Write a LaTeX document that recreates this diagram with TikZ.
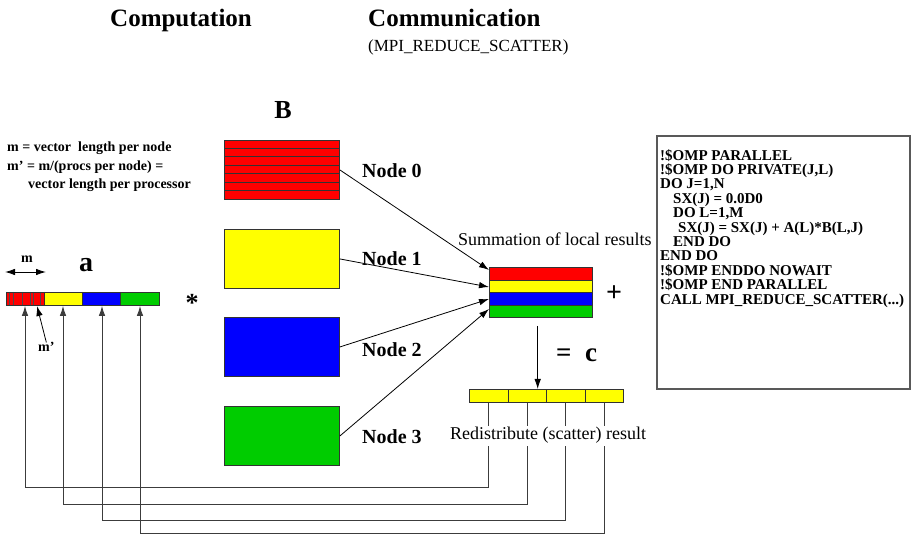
\documentclass[tikz,border=0pt]{standalone}
\usepackage{fontspec}
\setmainfont{Liberation Serif}
\usetikzlibrary{arrows.meta}
\definecolor{cred}{RGB}{255,0,0}
\definecolor{cyel}{RGB}{255,255,0}
\definecolor{cblu}{RGB}{0,0,255}
\definecolor{cgrn}{RGB}{0,204,0}
\definecolor{lgray}{RGB}{60,60,60}
\tikzset{
  fs/.style={font=\fontsize{#1}{#1}\selectfont},
  fsb/.style={font=\fontsize{#1}{#1}\selectfont\bfseries},
  bbox/.style={draw=black!80, line width=0.9pt, minimum width=115pt, minimum height=59pt, inner sep=0pt, anchor=north west},
  cell/.style={draw=black!80, line width=0.9pt, fill=cyel, minimum width=38.5pt, minimum height=13pt, inner sep=0pt, anchor=north west},
  tip/.tip={Latex[length=10pt,width=6.5pt]},
  conn/.style={line width=0.8pt, -tip},
  loopline/.style={draw=lgray, line width=0.9pt, -tip},
  lbl/.style={anchor=base west, inner sep=0pt},
}
\begin{document}
\begin{tikzpicture}[x=1pt,y=-1pt]
\useasboundingbox (0,0) rectangle (911,534);

% titles
\node[lbl, fsb=25] (t1) at (110,27) {Computation};
\node[lbl, fsb=25] (t2) at (368,27) {Communication};
\node[lbl, fs=17] (t3) at (368,52) {(MPI\_REDUCE\_SCATTER)};

% left explanation
\node[lbl, fsb=14] (e1) at (7,152) {m = vector\ \ length per node};
\node[lbl, fsb=14] (e2) at (7,170.5) {m’ = m/(procs per node) =};
\node[lbl, fsb=14] (e3) at (28,189) {vector length per processor};

% vector a
\node[lbl, fsb=14] (mlab) at (21,263) {m};
\coordinate (ml) at (5,272);
\coordinate (mr) at (46,272);
\draw[line width=0.9pt, tip-tip] (ml) -- (mr);
\node[lbl, fsb=28] (alab) at (79,272) {a};
\node[draw=black!80, line width=0.9pt, minimum width=153pt, minimum height=13pt, inner sep=0pt, anchor=north west] (abar) at (6,292) {};
\fill[cred] (6,292) rectangle (44.25,305);
\fill[cyel] (44.25,292) rectangle (82.5,305);
\fill[cblu] (82.5,292) rectangle (120.75,305);
\fill[cgrn] (120.75,292) rectangle (159,305);
\foreach \xx in {9.5,13.5,22,30,33.3,40}{\draw[line width=0.7pt, black!70] (\xx,292) -- (\xx,305);}
\foreach \xx in {44.25,82.5,120.75}{\draw[line width=0.9pt, black!80] (\xx,292) -- (\xx,305);}
\draw[draw=black!80, line width=0.9pt] (6,292) rectangle (159,305);
\node[lbl, fsb=14] (mplab) at (38,352) {m’};
\coordinate (mptip) at (37,306);
\draw[conn] (mplab.north) -- (mptip);
\node[fsb=26] (star) at (192,303) {*};

% matrix B
\node[fsb=26] (Blab) at (283,110) {B};
\node[bbox, fill=cred] (b0) at (224,140) {};
\foreach \k in {1,...,6}{\draw[line width=0.8pt, black!80] (224,140+8.43*\k) -- (339,140+8.43*\k);}
\node[bbox, fill=cyel] (b1) at (224,229) {};
\node[bbox, fill=cblu] (b2) at (224,317) {};
\node[bbox, fill=cgrn] (b3) at (224,406) {};
\node[lbl, fsb=20] (n0) at (362,178) {Node 0};
\node[lbl, fsb=20] (n1) at (362,266) {Node 1};
\node[lbl, fsb=20] (n2) at (362,357) {Node 2};
\node[lbl, fsb=20] (n3) at (362,444) {Node 3};

% summation
\node[lbl, fs=18] (sumlab) at (458,246) {Summation of local results};
\node[minimum width=103pt, minimum height=50.5pt, inner sep=0pt, anchor=north west] (sum) at (489,267.3) {};
\fill[cred] (489,267.3) rectangle (592,280);
\fill[cyel] (489,280) rectangle (592,292.7);
\fill[cblu] (489,292.7) rectangle (592,305.3);
\fill[cgrn] (489,305.3) rectangle (592,317.8);
\foreach \yy in {280,292.7,305.3}{\draw[line width=0.9pt, black!80] (489,\yy) -- (592,\yy);}
\draw[draw=black!80, line width=0.9pt] (489,267.3) rectangle (592,317.8);
\coordinate (s0) at (489,270);
\coordinate (s1) at (489,287);
\coordinate (s2) at (489,299);
\coordinate (s3) at (489,309);
\draw[conn] (b0.east) -- (s0);
\draw[conn] (b1.east) -- (s1);
\draw[conn] (b2.east) -- (s2);
\draw[conn] (b3.east) -- (s3);
\node[fsb=28] (plus) at (614,294) {+};

% result c
\coordinate (dstart) at (537.7,326);
\node[cell] (c0) at (469,389) {};
\node[cell] (c1) at (507.5,389) {};
\node[cell] (c2) at (546,389) {};
\node[cell] (c3) at (584.5,389) {};
\draw[conn] (dstart) -- (537.7,389);
\node[lbl, fsb=27] (eqc) at (556,362) {=\ \ c};

% scatter loops
\coordinate (l0) at (25,487);
\coordinate (l1) at (63,504);
\coordinate (l2) at (102,520);
\coordinate (l3) at (140,533);
\draw[loopline] (c0.south) |- (l0) -- (l0 |- abar.south);
\draw[loopline] (c1.south) |- (l1) -- (l1 |- abar.south);
\draw[loopline] (c2.south) |- (l2) -- (l2 |- abar.south);
\draw[loopline] (c3.south) |- (l3) -- (l3 |- abar.south);
\node[lbl, fs=18, fill=white, inner ysep=2pt] (redis) at (450,440) {Redistribute (scatter) result};

% code box
\node[draw=black!65, line width=1.6pt, minimum width=253pt, minimum height=253pt, inner sep=0pt, anchor=north west] (box) at (656,135) {};
\node[anchor=north west, inner sep=0pt, align=left, font=\fontsize{15}{14.4}\selectfont\bfseries] (code) at (660,149) {%
!\$OMP PARALLEL\\
!\$OMP DO PRIVATE(J,L)\\
DO J=1,N\\
\hspace*{13pt}SX(J) = 0.0D0\\
\hspace*{13pt}DO L=1,M\\
\hspace*{18pt}SX(J) = SX(J) + A(L)*B(L,J)\\
\hspace*{13pt}END DO\\
END DO\\
!\$OMP ENDDO NOWAIT\\
!\$OMP END PARALLEL\\
CALL MPI\_REDUCE\_SCATTER(...)};
\end{tikzpicture}
\end{document}
